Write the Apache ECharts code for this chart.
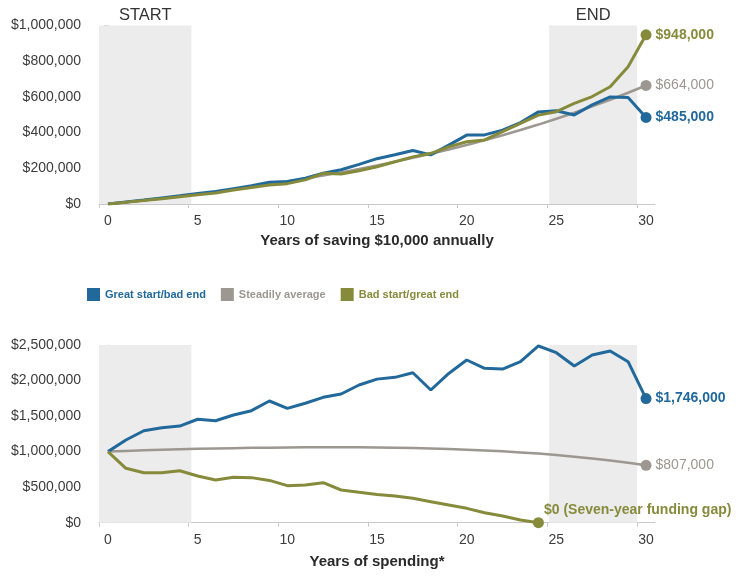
<!DOCTYPE html>
<html>
<head>
<meta charset="utf-8">
<script src="https://cdn.jsdelivr.net/npm/echarts@6/dist/echarts.min.js"></script>
<style>
  html, body { margin: 0; padding: 0; background: #fff; }
  #chart { width: 742px; height: 576px; }
</style>
</head>
<body>
<div id="chart"></div>
<script>
// Years on the horizontal axes
const years = [0, 1, 2, 3, 4, 5, 6, 7, 8, 9, 10, 11, 12, 13, 14, 15, 16, 17, 18, 19, 20,
               21, 22, 23, 24, 25, 26, 27, 28, 29, 30];
const yearLabels = [0, 5, 10, 15, 20, 25, 30];

const seriesNames = ['Great start/bad end', 'Steadily average', 'Bad start/great end'];

// Saving phase: balance after saving $10,000 each year
const saveGreatStart = [0, 11000, 22000, 34000, 46000, 59000, 70000, 86000, 102000, 122000, 126000,
  145000, 172000, 192000, 222000, 254000, 276000, 300000, 275000, 330000, 386000,
  387000, 414000, 456000, 516000, 522000, 499000, 555000, 600000, 597000, 485000];
const saveSteady = [0, 10000, 20500, 31500, 43100, 55300, 68000, 81400, 95500, 110300, 125800,
  142100, 159200, 177100, 196000, 215800, 236600, 258400, 281300, 305400, 330700,
  357200, 385100, 414300, 445000, 477300, 511100, 546700, 584000, 623200, 664000];
const saveBadStart = [0, 9500, 19500, 30000, 41000, 52000, 62000, 78000, 93000, 106000, 114000,
  135000, 172000, 168000, 186000, 209000, 237000, 264000, 284000, 320000, 349000,
  359000, 405000, 452000, 498000, 517000, 564000, 602000, 657000, 769000, 948000];

// Spending phase: balance of a $1,000,000 portfolio
const spendGreatStart = [1000000, 1163000, 1294000, 1337000, 1360000, 1455000, 1435000, 1515000, 1576000,
  1712000, 1609000, 1680000, 1764000, 1811000, 1937000, 2020000, 2045000, 2110000, 1867000,
  2100000, 2289000, 2172000, 2162000, 2265000, 2486000, 2392000, 2205000, 2359000, 2416000,
  2265000, 1746000];
const spendSteady = [1000000, 1010000, 1018000, 1026000, 1033000, 1039000, 1044000, 1049000, 1053000,
  1056000, 1058000, 1060000, 1061000, 1061000, 1060000, 1058000, 1055000, 1050000, 1044000,
  1037000, 1028000, 1017000, 1004000, 989000, 972000, 952000, 929000, 903000, 874000,
  842000, 807000];
const spendBadStart = [1000000, 765000, 703000, 703000, 731000, 657000, 601000, 638000, 634000,
  595000, 521000, 531000, 563000, 460000, 427000, 398000, 376000, 343000, 296000,
  249000, 202000, 141000, 94000, 38000, 0];

const saveTicks = { max: 1000000, step: 200000 };
const spendTicks = { max: 2500000, step: 500000 };

const colors = ['#22699b', '#9d9791', '#868b3b'];
const font = "'Liberation Sans', Arial, Helvetica, sans-serif";
const axisGray = '#c9c9c9';
const labelGray = '#3c3c3c';
const shade = '#ececec';

const money = v => '$' + Math.round(v).toLocaleString('en-US');
const pairs = (xs, ys) => ys.map((v, i) => [xs[i], v]);
const last = arr => arr[arr.length - 1];

function xAxisCfg(gridIndex, title, nameGap) {
  return {
    type: 'value', gridIndex, min: -0.5, max: 30.5,
    axisLine: { show: true, lineStyle: { color: axisGray, width: 1 } },
    axisTick: { show: true, length: 4, lineStyle: { color: axisGray },
                customValues: yearLabels.map(v => v - 0.5) },
    axisLabel: { customValues: yearLabels, color: labelGray, fontSize: 14, fontFamily: font, margin: 10 },
    splitLine: { show: false },
    name: title, nameLocation: 'middle', nameGap,
    nameTextStyle: { color: '#2a2a2a', fontSize: 15, fontWeight: 'bold', fontFamily: font }
  };
}

function yAxisCfg(gridIndex, ticks) {
  return {
    type: 'value', gridIndex, min: 0, max: ticks.max, interval: ticks.step,
    axisLine: { show: true, lineStyle: { color: axisGray, width: 1 } },
    axisTick: { show: true, length: 4, lineStyle: { color: axisGray } },
    axisLabel: { formatter: money, color: labelGray, fontSize: 14, fontFamily: font, margin: 18 },
    splitLine: { show: false }
  };
}

function endPoint(x, y, color, opts) {
  opts = opts || {};
  return {
    symbol: 'circle', symbolSize: 11, silent: true,
    itemStyle: { color },
    label: Object.assign({
      show: true, position: 'right', distance: 4,
      formatter: opts.text || money(y),
      color, fontSize: 14, fontFamily: font, fontWeight: opts.weight || 'bold'
    }, opts.label || {}),
    data: [{ coord: [x, y] }]
  };
}

function shadeArea(withLabels) {
  const lbl = name => withLabels
    ? { show: true, position: 'top', distance: 2, formatter: name, color: '#333', fontSize: 16.5, fontFamily: font }
    : { show: false };
  return {
    silent: true,
    itemStyle: { color: shade },
    data: [
      [{ xAxis: -0.5, label: lbl('START') }, { xAxis: 4.65 }],
      [{ xAxis: 24.6, label: lbl('END') }, { xAxis: 29.5 }]
    ]
  };
}

function lineSeries(name, idx, xs, ys, width, extra) {
  return Object.assign({
    name, type: 'line', xAxisIndex: idx, yAxisIndex: idx,
    data: pairs(xs, ys), symbol: 'none', smooth: false,
    lineStyle: { color: colors[seriesNames.indexOf(name)], width },
    itemStyle: { color: colors[seriesNames.indexOf(name)] },
    animation: false
  }, extra || {});
}

const chart = echarts.init(document.getElementById('chart'), null, { renderer: 'canvas' });

chart.setOption({
  backgroundColor: '#fff',
  animation: false,
  legend: {
    left: 82, top: 283, padding: 5, itemWidth: 13, itemHeight: 13, itemGap: 15, icon: 'rect',
    selectedMode: false,
    textStyle: { fontFamily: "'Liberation Sans Narrow', 'Arial Narrow', " + font, fontSize: 11, fontWeight: 'bold' },
    data: seriesNames.map((n, i) => ({ name: n, textStyle: { color: colors[i] } }))
  },
  grid: [
    { left: 99, top: 25.5, width: 556, height: 178.5 },
    { left: 99, top: 345, width: 556, height: 177.7 }
  ],
  xAxis: [
    xAxisCfg(0, 'Years of saving $10,000 annually', 29),
    xAxisCfg(1, 'Years of spending*', 32)
  ],
  yAxis: [yAxisCfg(0, saveTicks), yAxisCfg(1, spendTicks)],
  series: [
    lineSeries(seriesNames[1], 0, years, saveSteady, 2.5, {
      markArea: shadeArea(true),
      markPoint: endPoint(last(years), last(saveSteady), colors[1], { weight: 'normal' })
    }),
    lineSeries(seriesNames[0], 0, years, saveGreatStart, 3, {
      markPoint: endPoint(last(years), last(saveGreatStart), colors[0])
    }),
    lineSeries(seriesNames[2], 0, years, saveBadStart, 3, {
      markPoint: endPoint(last(years), last(saveBadStart), colors[2])
    }),
    lineSeries(seriesNames[1], 1, years, spendSteady, 2.5, {
      markArea: shadeArea(false),
      markPoint: endPoint(last(years), last(spendSteady), colors[1], { weight: 'normal' })
    }),
    lineSeries(seriesNames[0], 1, years, spendGreatStart, 3, {
      markPoint: endPoint(last(years), last(spendGreatStart), colors[0])
    }),
    lineSeries(seriesNames[2], 1, years, spendBadStart, 3, {
      markPoint: endPoint(years[spendBadStart.length - 1], last(spendBadStart), colors[2], {
        text: '$0 (Seven-year funding gap)',
        label: { position: [11, -7], align: 'left', verticalAlign: 'middle', distance: 0 }
      })
    })
  ]
});
</script>
</body>
</html>
